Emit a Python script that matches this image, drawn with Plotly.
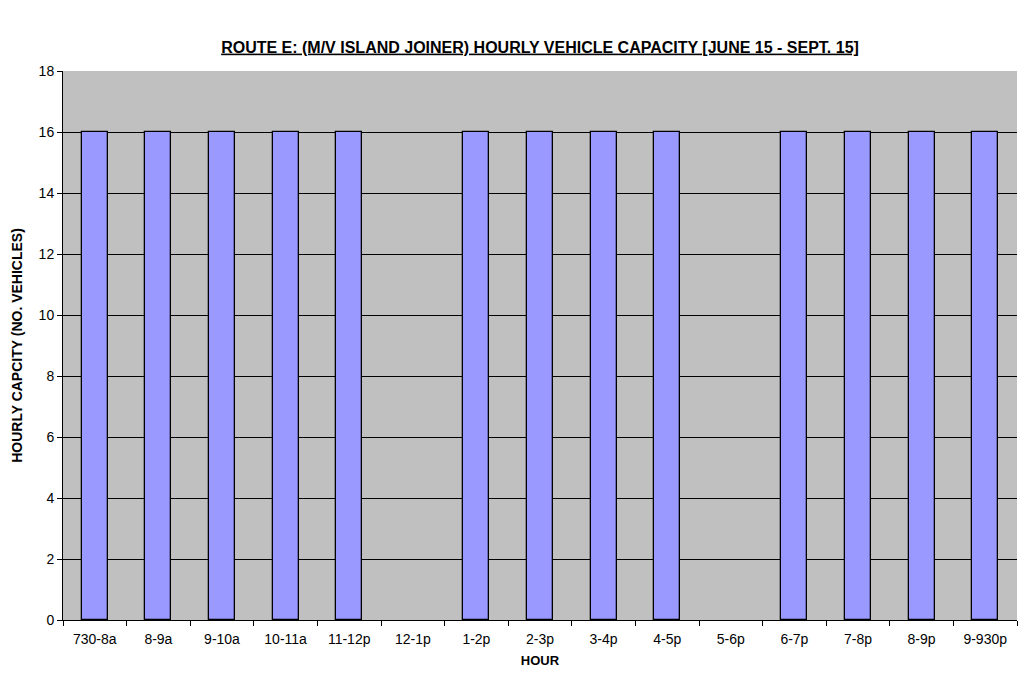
import plotly.graph_objects as go

hours = ["730-8a", "8-9a", "9-10a", "10-11a", "11-12p", "12-1p", "1-2p", "2-3p",
         "3-4p", "4-5p", "5-6p", "6-7p", "7-8p", "8-9p", "9-930p"]
capacity = [16, 16, 16, 16, 16, 0, 16, 16, 16, 16, 0, 16, 16, 16, 16]
y_ticks = list(range(0, 19, 2))

font_family = "Liberation Sans, Arial, sans-serif"

# empty hours get no outline so no stray line is drawn along the baseline
outline_widths = [1.3 if v > 0 else 0 for v in capacity]

fig = go.Figure(
    go.Bar(
        x=hours,
        y=capacity,
        width=0.41,
        marker=dict(color="#9999FF", line=dict(color="black", width=outline_widths)),
    )
)

fig.update_layout(
    width=1021,
    height=679,
    margin=dict(l=63, r=4, t=71, b=59),
    paper_bgcolor="white",
    plot_bgcolor="#C0C0C0",
    showlegend=False,
    font=dict(family=font_family, size=14, color="black"),
    title=dict(
        text="<b><u>ROUTE E: (M/V ISLAND JOINER) HOURLY VEHICLE CAPACITY [JUNE 15 - SEPT. 15]</u></b>",
        x=(63 + 1017) / 2 / 1021,
        xanchor="center",
        y=1 - 47 / 679,
        yanchor="middle",
        font=dict(family=font_family, size=16, color="black"),
    ),
    bargap=0,
)

fig.update_xaxes(
    type="category",
    tickson="boundaries",
    ticks="outside",
    ticklen=5,
    tickcolor="black",
    ticklabelstandoff=6,
    showline=True,
    linecolor="black",
    linewidth=1,
    showgrid=False,
    title=dict(text="<b>HOUR</b>", font=dict(family=font_family, size=13), standoff=10),
    tickfont=dict(family=font_family, size=14),
)

fig.update_yaxes(
    range=[0, 18],
    tickvals=y_ticks,
    ticks="outside",
    ticklen=5,
    tickcolor="black",
    showline=True,
    linecolor="black",
    linewidth=1,
    showgrid=True,
    gridcolor="black",
    gridwidth=1,
    zeroline=False,
    title=dict(text="<b>HOURLY CAPCITY (NO. VEHICLES)</b>", font=dict(family=font_family, size=14), standoff=12),
    tickfont=dict(family=font_family, size=14),
)

fig.write_html("out.html")
